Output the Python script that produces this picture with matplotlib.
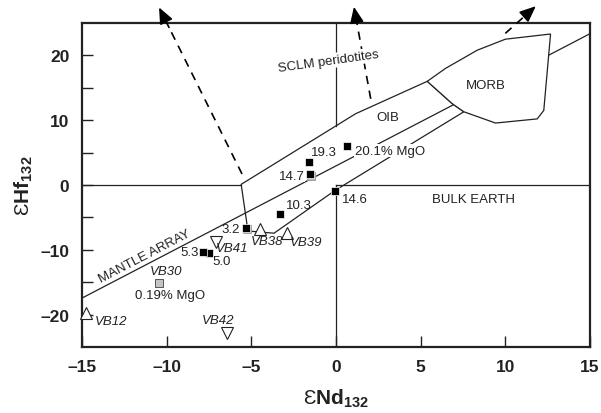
import numpy as np
import matplotlib.pyplot as plt
from matplotlib.patches import Polygon

plt.rcParams['font.family'] = ['Liberation Sans', 'DejaVu Sans']
plt.rcParams['mathtext.fontset'] = 'custom'
plt.rcParams['mathtext.rm'] = 'Liberation Sans'
plt.rcParams['mathtext.bf'] = 'Liberation Sans:bold'

# samples: black squares labelled with MgO (wt%)
mgo_labels = ['20.1% MgO', '19.3', '14.7', '14.6', '10.3', '3.2', '5.0', '5.3']
mgo_nd = [0.63, -1.59, -1.55, -0.08, -3.30, -5.33, -7.50, -7.85]
mgo_hf = [6.0, 3.5, 1.7, -0.85, -4.4, -6.7, -10.45, -10.3]

# low-MgO sample
vb30_nd = -10.44
vb30_hf = -15.1

# open triangles (up) and inverted triangles (down)
up_names = ['VB38', 'VB39', 'VB12']
up_nd = [-4.5, -2.87, -14.75]
up_hf = [-6.75, -7.35, -19.7]
down_names = ['VB41', 'VB42']
down_nd = [-7.1, -6.41]
down_hf = [-8.8, -22.8]

# mantle array (eHf = 1.36 eNd + 2.95)
array_slope = 1.36
array_icpt = 2.95

# field outlines
oib_nd = [-5.6, 1.16, 5.39, 6.86, 7.55, -0.08, -3.66, -5.2]
oib_hf = [0.1, 11.0, 16.0, 12.56, 11.3, -0.88, -7.44, -7.1]
morb_nd = [5.39, 6.47, 8.34, 10.0, 12.67, 12.27, 11.88, 9.42, 7.55, 6.86]
morb_hf = [16.0, 18.0, 20.8, 22.5, 23.3, 11.5, 10.2, 9.56, 11.3, 12.56]

ink = '#222222'

fig = plt.figure(figsize=(6.01, 4.14), dpi=100)
ax = fig.add_axes([82 / 601, 1 - 348 / 414, 508 / 601, 324 / 414])
ax.set_xlim(-15, 15)
ax.set_ylim(-25, 25)

# bulk earth reference lines
ax.plot([-15, -5.6], [0, 0], color=ink, lw=0.9, zorder=1)
ax.plot([0, 15], [0, 0], color=ink, lw=0.9, zorder=1)
ax.plot([0, 0], [-25, 0], color=ink, lw=0.9, zorder=1)
ax.plot([0, 0], [9.06, 25], color=ink, lw=0.9, zorder=1)

# OIB field
ax.add_patch(Polygon(list(zip(oib_nd, oib_hf)), closed=True, fill=False,
                     edgecolor=ink, lw=0.9, zorder=1.5))
# mantle array
xa = np.array([-15, 15])
ax.plot(xa, array_slope * xa + array_icpt, color=ink, lw=0.9, zorder=2)
# MORB field
ax.add_patch(Polygon(list(zip(morb_nd, morb_hf)), closed=True, facecolor='white',
                     edgecolor=ink, lw=0.9, zorder=2.5))

# dashed arrows pointing to SCLM peridotites
arrows = [((-5.55, 1.7), (-10.45, 27.4)),
          ((2.05, 13.3), (1.06, 27.5)),
          ((10.0, 23.4), (11.8, 27.6))]
for start, tip in arrows:
    (x0, y0), (x1, y1) = start, tip
    # dashed shaft, then a short solid piece carrying the head
    f = 0.88
    xm, ym = x0 + f * (x1 - x0), y0 + f * (y1 - y0)
    ax.plot([x0, xm], [y0, ym], color='black', lw=1.2, dashes=(5, 4),
            clip_on=False, zorder=3)
    ax.annotate('', xy=tip, xytext=(xm, ym), annotation_clip=False,
                arrowprops=dict(arrowstyle='-|>,head_length=0.7,head_width=0.3',
                                color='black', lw=1.2, mutation_scale=14,
                                shrinkA=0, shrinkB=0))

# hidden squares under overlapping samples
ax.plot([-1.5, -5.25], [1.45, -6.8], 's', ms=6, mfc='#bbbbbb', mec='#999999',
        mew=0.6, linestyle='none', zorder=2.8)

ax.plot(mgo_nd, mgo_hf, 's', ms=6, mfc='black', mec='white', mew=0.5,
        linestyle='none', zorder=3)
ax.plot(vb30_nd, vb30_hf, 's', ms=6, mfc='#c4c4c4', mec='#555555', mew=0.7,
        zorder=3)
ax.plot(up_nd, up_hf, '^', ms=8, mfc='white', mec=ink, mew=0.8,
        linestyle='none', zorder=3, clip_on=False)
ax.plot(down_nd, down_hf, 'v', ms=8, mfc='white', mec=ink, mew=0.8,
        linestyle='none', zorder=3)

fs = 9.5
lab = dict(fontsize=fs, color=ink, zorder=4)
white = dict(facecolor='white', edgecolor='none', pad=0.3)
ax.text(1.1, 5.3, '20.1% MgO', ha='left', va='center', bbox=white, **lab)
ax.text(-0.71, 5.15, '19.3', ha='center', va='center', **lab)
ax.text(-1.85, 1.4, '14.7', ha='right', va='center', bbox=white, **lab)
ax.text(0.35, -2.2, '14.6', ha='left', va='center', **lab)
ax.text(-2.97, -3.1, '10.3', ha='left', va='center', **lab)
ax.text(-5.68, -6.8, '3.2', ha='right', va='center', **lab)
ax.text(-8.08, -10.3, '5.3', ha='right', va='center', **lab)
ax.text(-7.3, -11.7, '5.0', ha='left', va='center', **lab)
ax.text(-9.8, -17.05, '0.19% MgO', ha='center', va='center', **lab)

it = dict(fontsize=fs, color=ink, style='italic', zorder=4)
ax.text(-4.05, -8.6, 'VB38', ha='center', va='center', **it)
ax.text(-1.74, -8.8, 'VB39', ha='center', va='center', **it)
ax.text(-6.12, -9.66, 'VB41', ha='center', va='center', **it)
ax.text(-10.05, -13.3, 'VB30', ha='center', va='center', **it)
ax.text(-13.3, -21.0, 'VB12', ha='center', va='center', **it)
ax.text(-6.95, -20.9, 'VB42', ha='center', va='center', **it)

ax.text(-11.33, -10.9, 'MANTLE ARRAY', ha='center', va='center',
        rotation=27.5, rotation_mode='anchor', **lab)
ax.text(-0.47, 19.1, 'SCLM peridotites', ha='center', va='center',
        rotation=8, rotation_mode='anchor',
        bbox=dict(facecolor='white', edgecolor='none', pad=1.0),
        fontsize=fs, color=ink, zorder=4)
ax.text(3.07, 10.5, 'OIB', ha='center', va='center', **lab)
ax.text(8.83, 15.4, 'MORB', ha='center', va='center', **lab)
ax.text(8.14, -2.17, 'BULK EARTH', ha='center', va='center', **lab)

# axes styling
for s in ax.spines.values():
    s.set_linewidth(1.6)
    s.set_color(ink)
ax.set_xticks(np.arange(-15, 16, 5))
ax.set_xticklabels(['\u201315', '\u201310', '\u20135', '0', '5', '10', '15'])
ax.set_yticks(np.arange(-20, 21, 10))
ax.set_yticklabels(['\u201320', '\u201310', '0', '10', '20'])
ax.set_yticks(np.arange(-15, 16, 10), minor=True)
ax.tick_params(which='both', direction='in', length=8, width=1.0, color=ink,
               top=False, right=False, labelsize=12.5, labelcolor=ink, pad=9)
for t in ax.get_xticklabels() + ax.get_yticklabels():
    t.set_fontweight('bold')

ax.set_xlabel('Ɛ$\\mathbf{Nd_{132}}$', fontsize=15, color=ink, labelpad=9)
ax.set_ylabel('Ɛ$\\mathbf{Hf_{132}}$', fontsize=15, color=ink, labelpad=4)

fig.savefig('out.png', dpi=100)
